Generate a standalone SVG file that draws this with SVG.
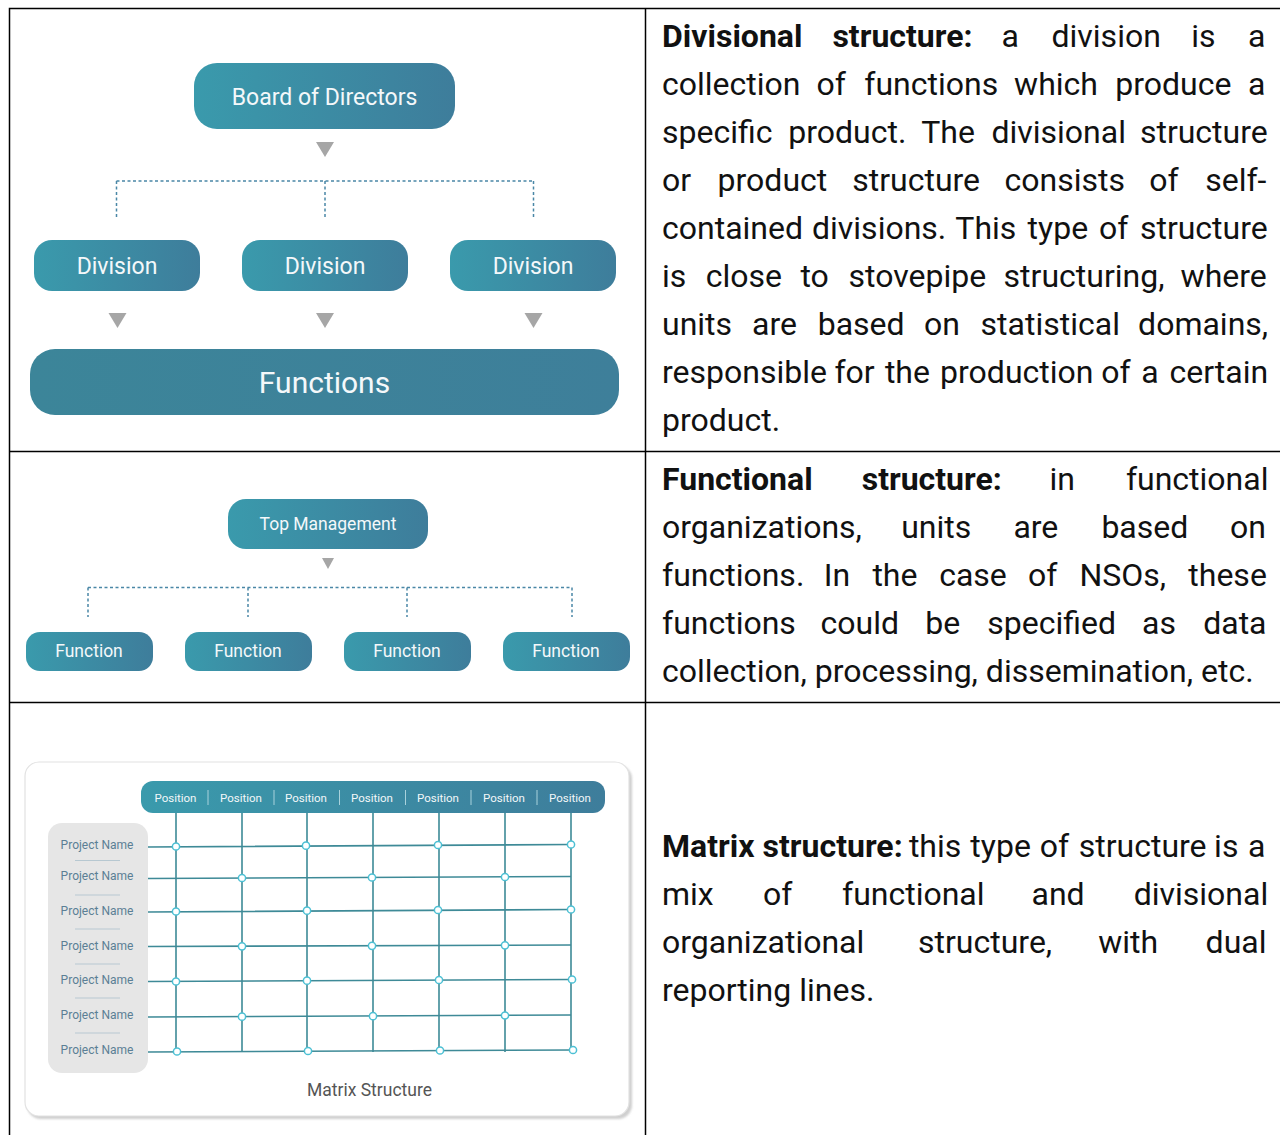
<svg xmlns="http://www.w3.org/2000/svg" width="1280" height="1135" viewBox="0 0 1280 1135">
<defs>
<linearGradient id="teal" x1="0" y1="0" x2="1" y2="0">
<stop offset="0" stop-color="#3a9aac"/>
<stop offset="1" stop-color="#3e7d9b"/>
</linearGradient>
<linearGradient id="tealFlat" x1="0" y1="0" x2="1" y2="0">
<stop offset="0" stop-color="#3c8599"/>
<stop offset="1" stop-color="#3e7f9a"/>
</linearGradient>
<filter id="soft" x="-5%" y="-5%" width="110%" height="110%">
<feGaussianBlur stdDeviation="1.2"/>
</filter>
</defs>
<style>
text{font-family:Roboto,"Liberation Sans",sans-serif}
.para{font-size:32px;fill:#111}
.b{font-weight:700}
.box{fill:url(#teal)}
.lbl{fill:#f4f8fa;text-anchor:middle}
.tri{fill:#a6a6a6}
.dot{fill:none;stroke:#4a87a6;stroke-width:1.5;stroke-dasharray:3 2.5}
.grid{fill:none;stroke:#3e8a97;stroke-width:1.6}
.node{fill:#fff;stroke:#4cc0d4;stroke-width:1.5}
.pos{font-size:11.5px;fill:#f2f7f9;text-anchor:middle}
.pn{font-size:12px;fill:#5b7f95;text-anchor:middle}
.sep{stroke:#b7c8d1;stroke-width:1.2}
.vsep{stroke:#a9d2dc;stroke-width:1}
.rule{stroke:#000;stroke-width:1.5;fill:none}
</style>

<g id="table-borders">
<path class="rule" d="M9.5 1135V8.5H1280M645.5 8.5V1135M9.5 451.5H1280M9.5 702.5H1280"/>
</g>

<!-- Divisional structure diagram -->
<g id="connectors-divisional">
<polygon class="tri" points="316,142 334,142 325,157"/>
<path class="dot" d="M116.5 181H533.5M116.5 181V219M325 181V219M533.5 181V219"/>
<polygon class="tri" points="108.5,313 126.5,313 117.5,328"/>
<polygon class="tri" points="316,313 334,313 325,328"/>
<polygon class="tri" points="524.5,313 542.5,313 533.5,328"/>
</g>
<g id="board-of-directors">
<rect class="box" x="194" y="63" width="261" height="66" rx="23"/>
<text class="lbl" x="324.5" y="105" font-size="23">Board of Directors</text>
</g>
<g id="division-1">
<rect class="box" x="34" y="240" width="166" height="51" rx="18"/>
<text class="lbl" x="117" y="274" font-size="23">Division</text>
</g>
<g id="division-2">
<rect class="box" x="242" y="240" width="166" height="51" rx="18"/>
<text class="lbl" x="325" y="274" font-size="23">Division</text>
</g>
<g id="division-3">
<rect class="box" x="450" y="240" width="166" height="51" rx="18"/>
<text class="lbl" x="533" y="274" font-size="23">Division</text>
</g>
<g id="functions">
<rect x="30" y="349" width="589" height="66" rx="25" fill="url(#tealFlat)"/>
<text class="lbl" x="324.5" y="393" font-size="30">Functions</text>
</g>

<!-- Functional structure diagram -->
<g id="connectors-functional">
<polygon class="tri" points="322,558 334,558 328,569"/>
<path class="dot" d="M88 587.5H572M88 587.5V617M248 587.5V617M407 587.5V617M572 587.5V617"/>
</g>
<g id="top-management">
<rect class="box" x="228" y="499" width="200" height="50" rx="18"/>
<text class="lbl" x="328" y="530" font-size="17.5">Top Management</text>
</g>
<g id="function-1">
<rect class="box" x="26" y="632" width="127" height="39" rx="14"/>
<text class="lbl" x="89" y="657" font-size="17.5">Function</text>
</g>
<g id="function-2">
<rect class="box" x="185" y="632" width="127" height="39" rx="14"/>
<text class="lbl" x="248" y="657" font-size="17.5">Function</text>
</g>
<g id="function-3">
<rect class="box" x="344" y="632" width="127" height="39" rx="14"/>
<text class="lbl" x="407" y="657" font-size="17.5">Function</text>
</g>
<g id="function-4">
<rect class="box" x="503" y="632" width="127" height="39" rx="14"/>
<text class="lbl" x="566" y="657" font-size="17.5">Function</text>
</g>

<!-- Matrix structure picture -->
<g id="matrix-card">
<rect x="27" y="765" width="605" height="354" rx="14" fill="#cfcfcf" filter="url(#soft)"/>
<rect x="25" y="762" width="604" height="354" rx="14" fill="#fff" stroke="#e2e2e2" stroke-width="1.2"/>
</g>
<g id="project-panel">
<rect x="48" y="823" width="100" height="250" rx="14" fill="#e6e6e6"/>
<text class="pn" x="97" y="849">Project Name</text>
<text class="pn" x="97" y="880">Project Name</text>
<text class="pn" x="97" y="915">Project Name</text>
<text class="pn" x="97" y="950">Project Name</text>
<text class="pn" x="97" y="984">Project Name</text>
<text class="pn" x="97" y="1019">Project Name</text>
<text class="pn" x="97" y="1054">Project Name</text>
<path class="sep" d="M75 860.5H120M75 895H120M75 929H120M75 964H120M75 998H120M75 1033H120"/>
</g>
<g id="matrix-grid">
<path class="grid" d="M176 813V1052M242 813V1052M307 813V1052M373 813V1052M439 813V1052M505 813V1052M571 813V1051"/>
<path class="grid" d="M148 847L571 844.5M148 878.5L571 876.5M148 912L571 909.5M148 946.5L571 945M148 981.5L571 979.5M148 1017L571 1015M148 1052L573 1050"/>
<circle class="node" cx="176" cy="846.5" r="3.6"/>
<circle class="node" cx="306" cy="845.7" r="3.6"/>
<circle class="node" cx="438" cy="845" r="3.6"/>
<circle class="node" cx="571" cy="844.5" r="3.6"/>
<circle class="node" cx="242" cy="878" r="3.6"/>
<circle class="node" cx="372" cy="877.5" r="3.6"/>
<circle class="node" cx="505" cy="877" r="3.6"/>
<circle class="node" cx="176" cy="911.5" r="3.6"/>
<circle class="node" cx="307" cy="910.7" r="3.6"/>
<circle class="node" cx="438" cy="910" r="3.6"/>
<circle class="node" cx="571" cy="909.5" r="3.6"/>
<circle class="node" cx="242" cy="946.3" r="3.6"/>
<circle class="node" cx="372" cy="945.8" r="3.6"/>
<circle class="node" cx="505" cy="945.3" r="3.6"/>
<circle class="node" cx="176" cy="981.5" r="3.6"/>
<circle class="node" cx="307" cy="980.7" r="3.6"/>
<circle class="node" cx="439" cy="980" r="3.6"/>
<circle class="node" cx="572" cy="979.5" r="3.6"/>
<circle class="node" cx="242" cy="1016.7" r="3.6"/>
<circle class="node" cx="373" cy="1016.2" r="3.6"/>
<circle class="node" cx="505" cy="1015.5" r="3.6"/>
<circle class="node" cx="177" cy="1051.5" r="3.6"/>
<circle class="node" cx="308" cy="1051" r="3.6"/>
<circle class="node" cx="440" cy="1050.5" r="3.6"/>
<circle class="node" cx="573" cy="1050" r="3.6"/>
</g>
<g id="position-header">
<rect x="141" y="781" width="464" height="32" rx="12" fill="url(#teal)"/>
<path class="vsep" d="M208 790V805M274 790V805M339.5 790V805M405.5 790V805M471 790V805M537 790V805"/>
<text class="pos" x="175.5" y="801.5">Position</text>
<text class="pos" x="241" y="801.5">Position</text>
<text class="pos" x="306" y="801.5">Position</text>
<text class="pos" x="372" y="801.5">Position</text>
<text class="pos" x="438" y="801.5">Position</text>
<text class="pos" x="504" y="801.5">Position</text>
<text class="pos" x="570" y="801.5">Position</text>
</g>
<text x="369.5" y="1096" font-size="17.5" fill="#555" text-anchor="middle">Matrix Structure</text>

<!-- Paragraphs -->
<g id="text-divisional" class="para">
<text y="47"><tspan class="b" x="662">Divisional</tspan><tspan class="b" x="832.4">structure:</tspan><tspan x="1001.4">a</tspan><tspan x="1051.5">division</tspan><tspan x="1191.3">is</tspan><tspan x="1248">a</tspan></text>
<text y="95"><tspan x="662">collection</tspan><tspan x="816.4">of</tspan><tspan x="864.3">functions</tspan><tspan x="1014.1">which</tspan><tspan x="1115.2">produce</tspan><tspan x="1248">a</tspan></text>
<text y="143"><tspan x="662">specific</tspan><tspan x="788.3">product.</tspan><tspan x="921.2">The</tspan><tspan x="991.4">divisional</tspan><tspan x="1139.9">structure</tspan></text>
<text y="191"><tspan x="662">or</tspan><tspan x="717.6">product</tspan><tspan x="852.2">structure</tspan><tspan x="1004.5">consists</tspan><tspan x="1149.3">of</tspan><tspan x="1205.2">self-</tspan></text>
<text y="239"><tspan x="662">contained</tspan><tspan x="812">divisions.</tspan><tspan x="955.3">This</tspan><tspan x="1027.6">type</tspan><tspan x="1099">of</tspan><tspan x="1139.9">structure</tspan></text>
<text y="287"><tspan x="662">is</tspan><tspan x="705.8">close</tspan><tspan x="800.4">to</tspan><tspan x="848.5">stovepipe</tspan><tspan x="1003.6">structuring,</tspan><tspan x="1180.6">where</tspan></text>
<text y="335"><tspan x="662">units</tspan><tspan x="752">are</tspan><tspan x="817.7">based</tspan><tspan x="924.1">on</tspan><tspan x="980.6">statistical</tspan><tspan x="1138.1">domains,</tspan></text>
<text y="383"><tspan x="662">responsible</tspan><tspan x="834.4">for</tspan><tspan x="884.9">the</tspan><tspan x="940.1">production</tspan><tspan x="1101.3">of</tspan><tspan x="1141.2">a</tspan><tspan x="1169.5">certain</tspan></text>
<text y="431" x="662">product.</text>
</g>
<g id="text-functional" class="para">
<text y="490"><tspan class="b" x="662">Functional</tspan><tspan class="b" x="861.7">structure:</tspan><tspan x="1049.4">in</tspan><tspan x="1125.9">functional</tspan></text>
<text y="538"><tspan x="662">organizations,</tspan><tspan x="901.2">units</tspan><tspan x="1013.4">are</tspan><tspan x="1101.4">based</tspan><tspan x="1230">on</tspan></text>
<text y="586"><tspan x="662">functions.</tspan><tspan x="823.7">In</tspan><tspan x="872.4">the</tspan><tspan x="939.2">case</tspan><tspan x="1028">of</tspan><tspan x="1079.5">NSOs,</tspan><tspan x="1188.3">these</tspan></text>
<text y="634"><tspan x="662">functions</tspan><tspan x="820.6">could</tspan><tspan x="925.2">be</tspan><tspan x="987.3">specified</tspan><tspan x="1142.1">as</tspan><tspan x="1203.2">data</tspan></text>
<text y="682" x="662">collection, processing, dissemination, etc.</text>
</g>
<g id="text-matrix" class="para">
<text y="857"><tspan class="b" x="662">Matrix</tspan><tspan class="b" x="762.6">structure:</tspan><tspan x="908.9">this</tspan><tspan x="970.3">type</tspan><tspan x="1039.7">of</tspan><tspan x="1078.7">structure</tspan><tspan x="1214.1">is</tspan><tspan x="1248">a</tspan></text>
<text y="905"><tspan x="662">mix</tspan><tspan x="762.9">of</tspan><tspan x="842">functional</tspan><tspan x="1031.5">and</tspan><tspan x="1133.7">divisional</tspan></text>
<text y="953"><tspan x="662">organizational</tspan><tspan x="918">structure,</tspan><tspan x="1098.2">with</tspan><tspan x="1205.6">dual</tspan></text>
<text y="1001" x="662">reporting lines.</text>
</g>
</svg>
